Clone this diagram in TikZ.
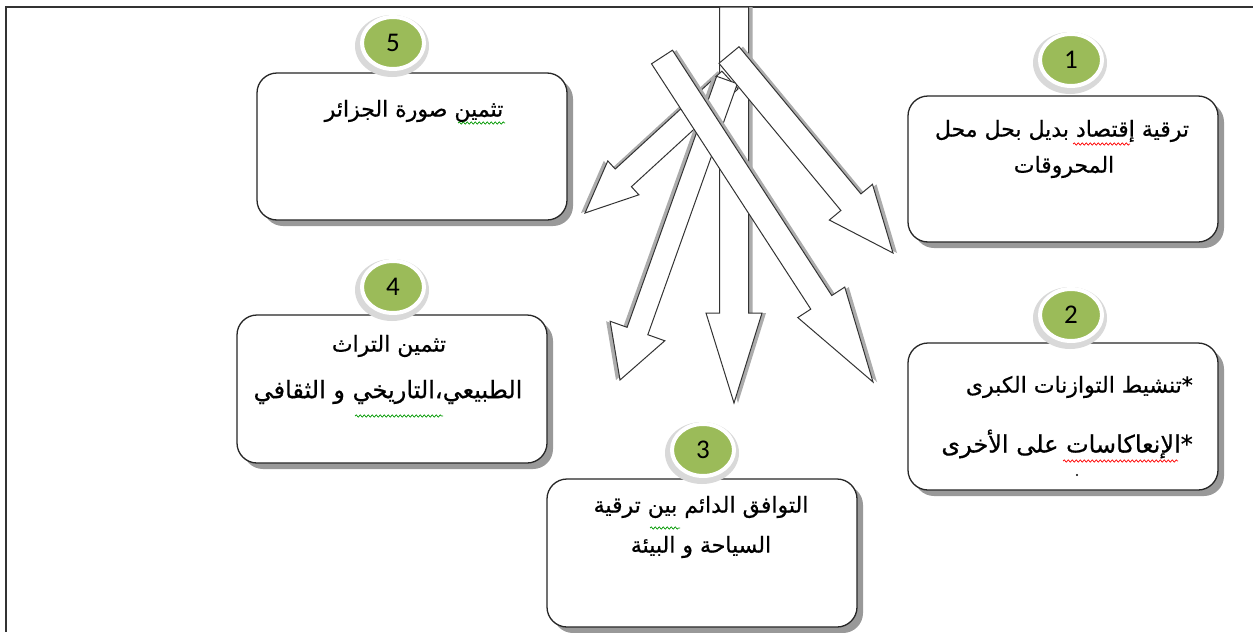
\documentclass[tikz,border=0pt]{standalone}
\usepackage{fontspec}
\setmainfont{Carlito}
\newfontfamily\arabicfont[Script=Arabic,FakeBold=0.6]{DejaVu Sans}
\TeXXeTstate=1
\usetikzlibrary{calc,shapes.geometric,shadows,decorations.pathmorphing}
\definecolor{numgreen}{RGB}{155,187,89}
\newcommand\artxt[1]{{\arabicfont\beginR #1\endR}}
\newcommand\blockarr[6]{%
  \coordinate (hb) at ($(#2)!#5pt!(#1)$);
  \begin{scope}[transform canvas={#6}]
    \fill[arrshadow] ($(#1)!#3pt!90:(#2)$) -- ($(hb)!#3pt!90:(#2)$) -- ($(hb)!#4pt!90:(#2)$) -- (#2) -- ($(hb)!#4pt!-90:(#2)$) -- ($(hb)!#3pt!-90:(#2)$) -- ($(#1)!#3pt!-90:(#2)$) -- cycle;
  \end{scope}
  \draw[arrbody] ($(#1)!#3pt!90:(#2)$) -- ($(hb)!#3pt!90:(#2)$) -- ($(hb)!#4pt!90:(#2)$) -- (#2) -- ($(hb)!#4pt!-90:(#2)$) -- ($(hb)!#3pt!-90:(#2)$) -- ($(#1)!#3pt!-90:(#2)$) -- cycle;
}
\tikzset{
  arrshadow/.style={fill=gray!65},
  arrbody/.style={fill=white, draw=black!80, line width=1pt, line join=miter},
  box/.style={draw=black!85, line width=1.3pt, fill=white, rounded corners=20pt,
    minimum width=310pt, inner sep=0pt,
    drop shadow={shadow xshift=6pt, shadow yshift=-6pt, fill=gray!80, opacity=1}},
  numcirc/.style={ellipse, fill=numgreen, draw=white, line width=4pt,
    minimum width=62pt, minimum height=52pt, inner sep=0pt, font=\fontsize{27}{29}\selectfont},
  halo/.style={fill=gray!30},
  txt/.style={inner sep=0pt, font=\fontsize{22}{25}\selectfont},
  bigtxt/.style={inner sep=0pt, font=\fontsize{24}{27}\selectfont},
  redsq/.style={draw=red, line width=0.7pt, decorate, decoration={snake, segment length=4pt, amplitude=1.1pt}},
  greensq/.style={draw=green!60!black, line width=0.7pt, decorate, decoration={snake, segment length=4pt, amplitude=1.1pt}},
}
\begin{document}
\begin{tikzpicture}[x=1pt,y=-1pt]
\useasboundingbox (0,0) rectangle (1253,632);
\fill[white] (0,0) rectangle (1253,632);
% frame
\draw[line width=2pt, black!80] (1253,7) -- (6,7) -- (6,632);

% boxes
\node[box, minimum height=146pt] (b1) at (1063,169) {};
\node[box, minimum height=147pt] (b2) at (1063,416.5) {};
\node[box, minimum height=148pt] (b3) at (702,553) {};
\node[box, minimum height=148pt] (b4) at (392,389) {};
\node[box, minimum height=147pt] (b5) at (412,146.5) {};

% arrows
\coordinate (vA) at (734,7);   \coordinate (vB) at (734,403);
\coordinate (r1A) at (729,55); \coordinate (r1B) at (893,253);
\coordinate (r2A) at (662,57); \coordinate (r2B) at (873,382);
\coordinate (l4A) at (727,80); \coordinate (l4B) at (620,380);
\coordinate (l5A) at (730,80); \coordinate (l5B) at (585,213);
\blockarr{vA}{vB}{14.5}{28}{90}{xshift=4pt}
\blockarr{l5A}{l5B}{12}{23}{52}{xshift=-4pt}
\blockarr{l4A}{l4B}{11}{29}{52}{xshift=-4pt}
\blockarr{r1A}{r1B}{13}{28}{66}{xshift=4pt}
\blockarr{r2A}{r2B}{12.5}{28}{95}{xshift=4pt}

% number circles
\foreach \n/\x/\y in {1/1071/60, 2/1071/315, 3/703/450, 4/393/287, 5/393/43}{
  \fill[halo] (\x-1,\y+3) ellipse [x radius=37, y radius=31];
  \node[numcirc] (c\n) at (\x,\y) {\n};
}

% texts
\node[txt] (t1a) at (1062,131) {\artxt{ترقية إقتصاد بديل بحل محل}};
\node[txt] (t1b) at (1064,167) {\artxt{المحروقات}};
\node[txt, anchor=east] (t2a) at (1193,387) {\artxt{*تنشيط التوازنات الكبرى}};
\node[bigtxt, anchor=east] (t2b) at (1193,444) {\artxt{*الإنعاكاسات على الأخرى}};
\node[txt] (t3a) at (701,507) {\artxt{التوافق الدائم بين ترقية}};
\node[txt] (t3b) at (701,547) {\artxt{السياحة و البيئة}};
\node[txt] (t4a) at (389,346) {\artxt{تثمين التراث}};
\node[bigtxt] (t4b) at (388,392) {\artxt{الطبيعي،التاريخي و الثقافي}};
\node[txt] (t5a) at (414,111) {\artxt{تثمين صورة الجزائر}};
\fill (1077,475) circle (1.2);

% spelling marks
\draw[redsq] (1073,144) -- (1130,144);
\draw[redsq] (1063,461) -- (1178,461);
\draw[greensq] (650,528) -- (680,528);
\draw[greensq] (355,416) -- (443,416);
\draw[greensq] (458,123) -- (505,123);
\end{tikzpicture}
\end{document}
